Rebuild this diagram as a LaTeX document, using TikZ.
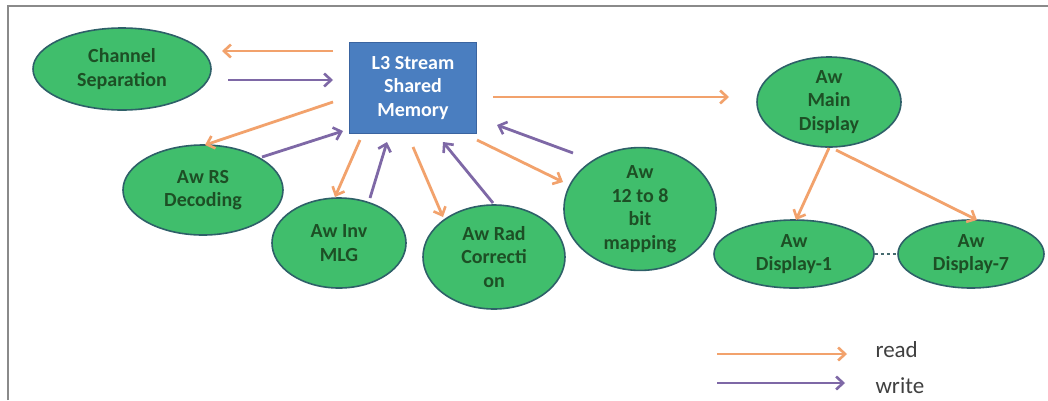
\documentclass[tikz,border=0pt]{standalone}
\usepackage{fontspec}
\setmainfont{Carlito}
\usetikzlibrary{shapes.geometric,arrows.meta}
\definecolor{rdcol}{HTML}{F2A26C}
\definecolor{wrcol}{HTML}{7E68A6}
\definecolor{elfill}{HTML}{40BE6C}
\definecolor{eldraw}{HTML}{2E6068}
\definecolor{eltext}{HTML}{1D4F25}
\definecolor{boxfill}{HTML}{4A7EC0}
\definecolor{boxdraw}{HTML}{3A64A0}
\definecolor{framecol}{HTML}{8A8A8A}
\definecolor{legtext}{HTML}{404040}
\begin{document}
\begin{tikzpicture}[x=1pt,y=-1pt,
  proc/.style={ellipse,draw=eldraw,line width=1.6pt,fill=elfill,inner sep=0pt,
    align=center,text=eltext,font=\fontsize{20}{23.5}\selectfont\bfseries},
  mem/.style={rectangle,draw=boxdraw,line width=1.2pt,fill=boxfill,inner sep=0pt,
    minimum width=127pt,minimum height=91pt,align=center,text=white,
    font=\fontsize{20}{23.5}\selectfont\bfseries},
  rd/.style={draw=rdcol,line width=2.8pt,-{Straight Barb[length=7pt,width=13pt,line width=2.6pt]}},
  wr/.style={draw=wrcol,line width=2.8pt,-{Straight Barb[length=7pt,width=13pt,line width=2.6pt]}},
  leg/.style={anchor=west,text=legtext,font=\fontsize{23}{26}\selectfont}]
\useasboundingbox (0,0) rectangle (1048,400);
\fill[white] (0,0) rectangle (1048,400);
\draw[framecol,line width=2pt] (8,400) -- (8,6) -- (1048,6);

\node[mem] (L3) at (413,88) {L3 Stream\\Shared\\Memory};
\node[proc,minimum width=178pt,minimum height=82pt] (Ch) at (122,69) {Channel\\Separation};
\node[proc,minimum width=160pt,minimum height=90pt] (RS) at (203,190) {Aw RS\\Decoding};
\node[proc,minimum width=134pt,minimum height=90pt] (MLG) at (339,243) {Aw Inv\\MLG};
\node[proc,minimum width=142pt,minimum height=104pt] (Rad) at (494,257) {Aw Rad\\Correcti\\on};
\node[proc,minimum width=152pt,minimum height=112pt] (Bit) at (640,209) {Aw\\12 to 8\\bit\\mapping};
\node[proc,minimum width=144pt,minimum height=90pt] (Main) at (829,102) {Aw\\Main\\Display};
\node[proc,minimum width=160pt,minimum height=68pt] (D1) at (794,254) {Aw\\Display-1};
\node[proc,minimum width=146pt,minimum height=68pt] (D7) at (971,254) {Aw\\Display-7};

\draw[rd] ([shift={(-80,-37)}]L3.center) -- ([shift={(100,-18)}]Ch.center);
\draw[wr] ([shift={(106,11)}]Ch.center) -- ([shift={(-80,-8)}]L3.center);
\draw[rd] ([shift={(-80,14)}]L3.center) -- ([shift={(2,-45)}]RS.center);
\draw[wr] ([shift={(59,-33)}]RS.center) -- ([shift={(-70,43)}]L3.center);
\draw[rd] ([shift={(-53,52)}]L3.center) -- ([shift={(-4,-46)}]MLG.center);
\draw[wr] ([shift={(31,-45)}]MLG.center) -- ([shift={(-26,54)}]L3.center);
\draw[rd] ([shift={(0,59)}]L3.center) -- ([shift={(-51,-40)}]Rad.center);
\draw[wr] ([shift={(-1,-54)}]Rad.center) -- ([shift={(30,54)}]L3.center);
\draw[rd] ([shift={(64,52)}]L3.center) -- ([shift={(-77,-27)}]Bit.center);
\draw[wr] ([shift={(-67,-56)}]Bit.center) -- ([shift={(84,37)}]L3.center);
\draw[rd] ([shift={(80,9)}]L3.center) -- ([shift={(-100,-5)}]Main.center);
\draw[rd] ([shift={(0,46)}]Main.center) -- ([shift={(2,-34)}]D1.center);
\draw[rd] ([shift={(7,48)}]Main.center) -- ([shift={(6,-34)}]D7.center);
\draw[eldraw!70!gray,line width=1.2pt,dash pattern=on 3pt off 3pt] (D1.east) -- (D7.west);

\node[leg] (lread) at (872,350) {read};
\node[leg] (lwrite) at (872,386) {write};
\coordinate (rs) at (717,354);
\coordinate (ws) at (717,383);
\draw[rd] (rs) -- ([xshift=-25pt]lread.west |- rs);
\draw[wr] (ws) -- ([xshift=-27pt]lwrite.west |- ws);
\end{tikzpicture}
\end{document}
